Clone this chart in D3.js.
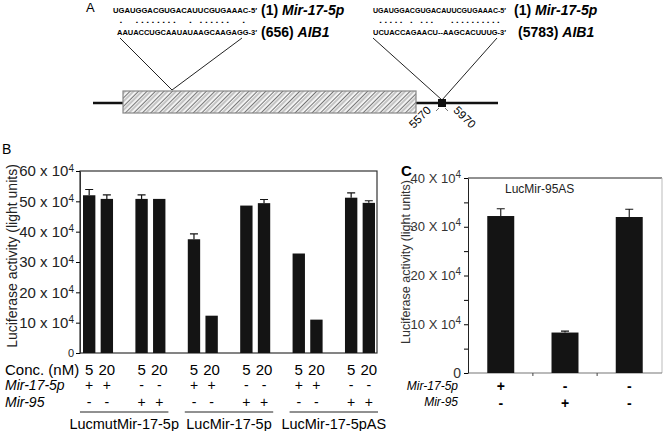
<!DOCTYPE html>
<html>
<head>
<meta charset="utf-8">
<script src="https://cdn.jsdelivr.net/npm/d3@7"></script>
<style>
  body { margin: 0; background: #fff; }
  svg { font-family: "Liberation Sans", Arial, sans-serif; }
</style>
</head>
<body>
<div id="chart"></div>
<script>
// panel A - binding sites on the AIB1 transcript
const sitePositions = [656, 5783];
const regionBounds = [5570, 5970];
const mirSeq = "UGAUGGACGUGACAUUCGUGAAAC-5\u2032";
const targetSeqs = ["AAUACCUGCAAUAUAAGCAAGAGG-3\u2032", "UCUACCAGAACU--AAGCACUUUG-3\u2032"];
const pairDots = [" .  ........  . ......  .  ", " ..... . ...   .......... "];
const siteLabels = ["(656)", "(5783)"];

// panel B
const bGroups = ["LucmutMir-17-5p", "LucMir-17-5p", "LucMir-17-5pAS"];
const bConc = ["5", "20", "5", "20", "5", "20", "5", "20", "5", "20", "5", "20"];
const bMir17 = ["+", "+", "-", "-", "+", "+", "-", "-", "+", "+", "-", "-"];
const bMir95 = ["-", "-", "+", "+", "-", "-", "+", "+", "-", "-", "+", "+"];
const bValues = [52, 50.8, 50.8, 50.8, 37.5, 12.3, 48.6, 49.4, 32.8, 11, 51.2, 49.5];
const bErrors = [1.9, 1.3, 1.3, 0, 1.8, 0, 0, 1.2, 0, 0, 1.6, 0.7];
const bTicks = [0, 10, 20, 30, 40, 50, 60];

// panel C
const cValues = [32.2, 8.3, 32];
const cErrors = [1.5, 0.3, 1.6];
const cMir17 = ["+", "-", "-"];
const cMir95 = ["-", "+", "-"];
const cTicks = [0, 10, 20, 30, 40];
const cMinor = [5, 15, 25, 35];

const svg = d3.select("#chart").append("svg")
  .attr("width", 664)
  .attr("height", 431);

// hatch pattern for the coding region box
const defs = svg.append("defs");
const pat = defs.append("pattern")
  .attr("id", "hatch")
  .attr("patternUnits", "userSpaceOnUse")
  .attr("width", 6).attr("height", 6)
  .attr("patternTransform", "rotate(45)");
pat.append("rect").attr("width", 6).attr("height", 6).attr("fill", "#f2f2f2");
pat.append("line").attr("x1", 0).attr("y1", 0).attr("x2", 0).attr("y2", 6)
  .attr("stroke", "#555").attr("stroke-width", 1.6);
pat.append("line").attr("x1", 3).attr("y1", 0).attr("x2", 3).attr("y2", 6)
  .attr("stroke", "#999").attr("stroke-width", 1);

// ---------- A ----------
const gA = svg.append("g");
const ntScale = d3.scaleLinear().domain(sitePositions).range([172, 442]);

gA.append("text").attr("x", 86).attr("y", 12).attr("font-size", 13).text("A");

gA.append("line")
  .attr("x1", 93).attr("x2", 498).attr("y1", 103).attr("y2", 103)
  .attr("stroke", "#111").attr("stroke-width", 2.5);
gA.append("rect")
  .attr("x", 123).attr("y", 91).attr("width", 293).attr("height", 22)
  .attr("fill", "url(#hatch)").attr("stroke", "#888").attr("stroke-width", 1.2);

const seqX = [[113, 257], [373, 506]];
const vTops = [[120, 242], [373, 497]];
const vBottoms = [90, 100];

sitePositions.forEach((pos, i) => {
  const x0 = seqX[i][0], w = seqX[i][1] - seqX[i][0];
  gA.append("text").attr("x", x0).attr("y", 13)
    .attr("font-size", 7).attr("font-weight", "bold")
    .attr("textLength", w).attr("lengthAdjust", "spacingAndGlyphs")
    .text(mirSeq);
  gA.append("text").attr("x", x0).attr("y", 23)
    .attr("font-family", "DejaVu Sans Mono").attr("font-size", 7).attr("font-weight", "bold")
    .attr("textLength", w).attr("lengthAdjust", "spacingAndGlyphs")
    .style("white-space", "pre")
    .text(pairDots[i]);
  gA.append("text").attr("x", x0 + (i === 0 ? 4 : 0)).attr("y", 35)
    .attr("font-size", 7).attr("font-weight", "bold")
    .attr("textLength", w - (i === 0 ? 4 : 0)).attr("lengthAdjust", "spacingAndGlyphs")
    .text(targetSeqs[i]);

  const lx = seqX[i][1] + (i === 0 ? 4 : 8);
  const t1 = gA.append("text").attr("x", lx).attr("y", 15)
    .attr("font-size", 14).attr("font-weight", "bold");
  t1.append("tspan").text("(1) ");
  t1.append("tspan").attr("font-style", "italic").text("Mir-17-5p");
  const t2 = gA.append("text").attr("x", lx + (i === 0 ? 0 : 4)).attr("y", 37)
    .attr("font-size", 14).attr("font-weight", "bold");
  t2.append("tspan").text(siteLabels[i] + " ");
  t2.append("tspan").attr("font-style", "italic").text("AIB1");

  const tipX = ntScale(pos);
  gA.append("path")
    .attr("d", `M${vTops[i][0]},38 L${tipX},${vBottoms[i]} L${vTops[i][1]},38`)
    .attr("fill", "none").attr("stroke", "#222").attr("stroke-width", 1);
});

// 3'UTR region marker
const rx0 = ntScale(regionBounds[0]), rx1 = ntScale(regionBounds[1]);
const sqX = ntScale(sitePositions[1]);
gA.append("rect").attr("x", sqX - 4).attr("y", 99).attr("width", 8).attr("height", 8).attr("fill", "#111");
gA.append("line").attr("x1", sqX - 3).attr("y1", 108).attr("x2", sqX - 6).attr("y2", 111).attr("stroke", "#555").attr("stroke-width", 0.8);
gA.append("line").attr("x1", sqX + 3).attr("y1", 108).attr("x2", sqX + 6).attr("y2", 111).attr("stroke", "#555").attr("stroke-width", 0.8);
gA.append("text")
  .attr("transform", `translate(${rx0 + 1},111) rotate(-45)`)
  .attr("text-anchor", "end").attr("font-size", 11.5).text(regionBounds[0]);
gA.append("text")
  .attr("transform", `translate(${rx1 + 1},111) rotate(45)`)
  .attr("text-anchor", "start").attr("font-size", 11.5).text(regionBounds[1]);

// ---------- B ----------
const gB = svg.append("g");
const yB = d3.scaleLinear().domain([0, 60]).range([353, 171]);
const xPair = d3.scaleBand().domain(d3.range(6)).range([83, 375]).paddingInner(0.427);
const xInner = d3.scaleBand().domain([0, 1]).range([0, xPair.bandwidth()]).paddingInner(0.3);
const bx = i => xPair(Math.floor(i / 2)) + xInner(i % 2);

gB.append("text").attr("x", 2).attr("y", 154).attr("font-size", 14).text("B");

gB.append("rect")
  .attr("x", 80).attr("y", 171).attr("width", 297).attr("height", 182)
  .attr("fill", "none").attr("stroke", "#333").attr("stroke-width", 1.2);

const axB = gB.append("g")
  .attr("transform", "translate(80,0)")
  .call(d3.axisLeft(yB).tickValues(bTicks).tickSize(4).tickSizeOuter(0).tickPadding(2))
  .attr("font-family", "Liberation Sans, Arial, sans-serif");
axB.select(".domain").attr("stroke", "#333");
axB.selectAll("text").attr("font-size", 15).attr("fill", "#222")
  .each(function (d) {
    const t = d3.select(this).text("");
    if (d === 0) { t.attr("font-size", 11).text("0"); return; }
    t.append("tspan").text(d + " x 10");
    t.append("tspan").attr("dy", "-0.45em").attr("font-size", 10).text("4");
  });

gB.selectAll(".barB").data(bValues).enter().append("rect")
  .attr("class", "barB")
  .attr("x", (d, i) => bx(i))
  .attr("width", xInner.bandwidth())
  .attr("y", d => yB(d))
  .attr("height", d => yB(0) - yB(d))
  .attr("fill", "#141414");

bErrors.forEach((e, i) => {
  if (!e) return;
  const cx = bx(i) + xInner.bandwidth() / 2;
  gB.append("path")
    .attr("d", `M${cx},${yB(bValues[i])} V${yB(bValues[i] + e)} M${cx - 4},${yB(bValues[i] + e)} H${cx + 4}`)
    .attr("stroke", "#141414").attr("stroke-width", 1.2).attr("fill", "none");
});

gB.append("text")
  .attr("transform", "translate(17,256) rotate(-90)")
  .attr("text-anchor", "middle").attr("font-size", 14).attr("fill", "#222")
  .text("Luciferase activity (light units)");

const rowY = { conc: 375, m17: 390, m95: 407 };
gB.append("text").attr("x", 5).attr("y", rowY.conc).attr("font-size", 15).text("Conc. (nM)");
gB.append("text").attr("x", 5).attr("y", rowY.m17).attr("font-size", 14).attr("font-style", "italic").text("Mir-17-5p");
gB.append("text").attr("x", 5).attr("y", rowY.m95).attr("font-size", 14).attr("font-style", "italic").text("Mir-95");

bConc.forEach((c, i) => {
  const cx = bx(i) + xInner.bandwidth() / 2;
  gB.append("text").attr("x", cx).attr("y", rowY.conc).attr("text-anchor", "middle").attr("font-size", 15).text(c);
  gB.append("text").attr("x", cx).attr("y", rowY.m17).attr("text-anchor", "middle").attr("font-size", 14).text(bMir17[i]);
  gB.append("text").attr("x", cx).attr("y", rowY.m95).attr("text-anchor", "middle").attr("font-size", 14).text(bMir95[i]);
});

bGroups.forEach((g, k) => {
  const x0 = xPair(2 * k) - 3;
  const x1 = xPair(2 * k + 1) + xPair.bandwidth() + 3;
  gB.append("line").attr("x1", x0).attr("x2", x1).attr("y1", 412).attr("y2", 412)
    .attr("stroke", "#222").attr("stroke-width", 1);
  gB.append("text").attr("x", (x0 + x1) / 2).attr("y", 429)
    .attr("text-anchor", "middle").attr("font-size", 14.5).text(g);
});

// ---------- C ----------
const gC = svg.append("g");
const yC = d3.scaleLinear().domain([0, 40]).range([373, 178]);
const xC = d3.scaleBand().domain(d3.range(3)).range([468, 662]).paddingInner(0.58).paddingOuter(0.3);

gC.append("text").attr("x", 401).attr("y", 176).attr("font-size", 15).attr("font-weight", "bold").text("C");

gC.append("line").attr("x1", 468).attr("x2", 662).attr("y1", 178).attr("y2", 178).attr("stroke", "#222");
gC.append("line").attr("x1", 662).attr("x2", 662).attr("y1", 178).attr("y2", 373).attr("stroke", "#bbb");
gC.append("line").attr("x1", 468).attr("x2", 662).attr("y1", 373).attr("y2", 373).attr("stroke", "#777").attr("stroke-width", 1.2);

const axC = gC.append("g")
  .attr("transform", "translate(468,0)")
  .call(d3.axisLeft(yC).tickValues(cTicks.concat(cMinor)).tickSize(4).tickSizeOuter(0).tickPadding(3))
  .attr("font-family", "Liberation Sans, Arial, sans-serif");
axC.select(".domain").attr("stroke", "#222");
axC.selectAll("text").attr("font-size", 13).attr("fill", "#333")
  .each(function (d) {
    const t = d3.select(this).text("");
    if (cMinor.includes(d)) return;
    if (d === 0) { t.attr("font-size", 14).text("0"); return; }
    t.append("tspan").text(d + " X 10");
    t.append("tspan").attr("dy", "-0.5em").attr("font-size", 10).text("4");
  });

gC.selectAll(".barC").data(cValues).enter().append("rect")
  .attr("class", "barC")
  .attr("x", (d, i) => xC(i))
  .attr("width", xC.bandwidth())
  .attr("y", d => yC(d))
  .attr("height", d => yC(0) - yC(d))
  .attr("fill", "#141414");

cErrors.forEach((e, i) => {
  const cx = xC(i) + xC.bandwidth() / 2;
  gC.append("path")
    .attr("d", `M${cx},${yC(cValues[i])} V${yC(cValues[i] + e)} M${cx - 4},${yC(cValues[i] + e)} H${cx + 4}`)
    .attr("stroke", "#141414").attr("stroke-width", 1.1).attr("fill", "none");
});

// small ticks between the bars
[0, 1].forEach(i => {
  const mx = (xC(i) + xC.bandwidth() + xC(i + 1)) / 2;
  gC.append("line").attr("x1", mx).attr("x2", mx).attr("y1", 373).attr("y2", 376).attr("stroke", "#444");
});

gC.append("text").attr("x", 505).attr("y", 193).attr("font-size", 12).attr("fill", "#222").text("LucMir-95AS");

gC.append("text")
  .attr("transform", "translate(410,262) rotate(-90)")
  .attr("text-anchor", "middle").attr("font-size", 12.5).attr("fill", "#333")
  .text("Luciferase activity (light units)");

gC.append("text").attr("x", 458).attr("y", 390).attr("text-anchor", "end")
  .attr("font-size", 12).attr("font-style", "italic").text("Mir-17-5p");
gC.append("text").attr("x", 458).attr("y", 406).attr("text-anchor", "end")
  .attr("font-size", 12).attr("font-style", "italic").text("Mir-95");

cValues.forEach((v, i) => {
  const cx = xC(i) + xC.bandwidth() / 2;
  gC.append("text").attr("x", cx).attr("y", 391).attr("text-anchor", "middle")
    .attr("font-size", 14).attr("font-weight", "bold").text(cMir17[i]);
  gC.append("text").attr("x", cx).attr("y", 408).attr("text-anchor", "middle")
    .attr("font-size", 14).attr("font-weight", "bold").text(cMir95[i]);
});
</script>
</body>
</html>
